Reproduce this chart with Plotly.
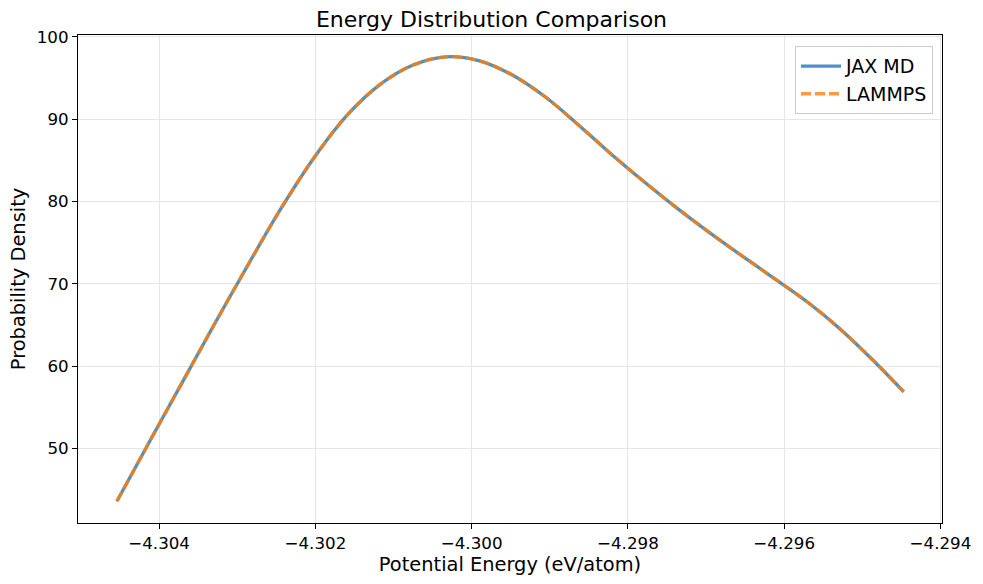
import plotly.graph_objects as go

# Data
energy = [-4.30454, -4.30412, -4.30370, -4.30328, -4.30285, -4.30243, -4.30201,
          -4.30159, -4.30117, -4.30075, -4.30033, -4.29991, -4.29949, -4.29906,
          -4.29864, -4.29822, -4.29780, -4.29738, -4.29696, -4.29654, -4.29612,
          -4.29569, -4.29527, -4.29485, -4.29447]
jax_density = [43.6, 50.9, 58.1, 65.3, 72.5, 79.3, 85.4, 90.5, 94.2, 96.55, 97.55,
               97.1, 95.4, 92.7, 89.35, 85.8, 82.45, 79.25, 76.25, 73.4, 70.6,
               67.7, 64.4, 60.6, 56.9]
lammps_density = [43.6, 50.9, 58.1, 65.3, 72.5, 79.3, 85.4, 90.5, 94.2, 96.55, 97.55,
                  97.1, 95.4, 92.7, 89.35, 85.8, 82.45, 79.25, 76.25, 73.4, 70.6,
                  67.7, 64.4, 60.6, 56.9]
x_ticks = [-4.304, -4.302, -4.300, -4.298, -4.296, -4.294]
x_tick_labels = ["−4.304", "−4.302", "−4.300", "−4.298", "−4.296", "−4.294"]
y_ticks = [50, 60, 70, 80, 90, 100]

FONT = "DejaVu Sans"

fig = go.Figure()
fig.add_trace(go.Scatter(
    x=energy, y=jax_density, mode="lines", name="JAX MD",
    line=dict(color="#1f77b4", width=3.3, shape="spline", smoothing=1.0),
    opacity=0.8,
))
fig.add_trace(go.Scatter(
    x=energy, y=lammps_density, mode="lines", name="LAMMPS",
    line=dict(color="#ff7f0e", width=3.3, dash="10px,4px", shape="spline", smoothing=1.0),
    opacity=0.8,
))

fig.update_layout(
    width=983, height=584,
    margin=dict(l=78, r=38, t=35, b=61),
    paper_bgcolor="white", plot_bgcolor="white",
    font=dict(family=FONT, color="black", size=17),
    title=dict(text="Energy Distribution Comparison", x=0.5, xanchor="center",
               y=1 - 19 / 584, yanchor="middle",
               font=dict(family=FONT, size=22, color="black")),
    showlegend=True,
    legend=dict(x=0.9896, xanchor="right", y=0.977, yanchor="top",
                bgcolor="rgba(255,255,255,0.8)", bordercolor="#cccccc", borderwidth=1,
                font=dict(family=FONT, size=19, color="black"),
                itemwidth=40, tracegroupgap=2),
)

fig.update_xaxes(
    range=[-4.305038, -4.29398],
    tickmode="array", tickvals=x_ticks, ticktext=x_tick_labels,
    showline=True, linecolor="black", linewidth=1.1, mirror=True,
    ticks="outside", ticklen=5, tickcolor="black", tickwidth=1,
    showgrid=True, gridcolor="#e6e6e6", gridwidth=1, zeroline=False,
    tickfont=dict(family=FONT, size=16.7, color="black"),
    title=dict(text="Potential Energy (eV/atom)", standoff=5,
               font=dict(family=FONT, size=19.4, color="black")),
)
fig.update_yaxes(
    range=[40.97, 100.2],
    tickmode="array", tickvals=y_ticks,
    showline=True, linecolor="black", linewidth=1.1, mirror=True,
    ticks="outside", ticklen=5, tickcolor="black", tickwidth=1,
    showgrid=True, gridcolor="#e6e6e6", gridwidth=1, zeroline=False,
    tickfont=dict(family=FONT, size=16.7, color="black"),
    title=dict(text="Probability Density", standoff=5,
               font=dict(family=FONT, size=19.4, color="black")),
)

fig.write_html("out.html")
